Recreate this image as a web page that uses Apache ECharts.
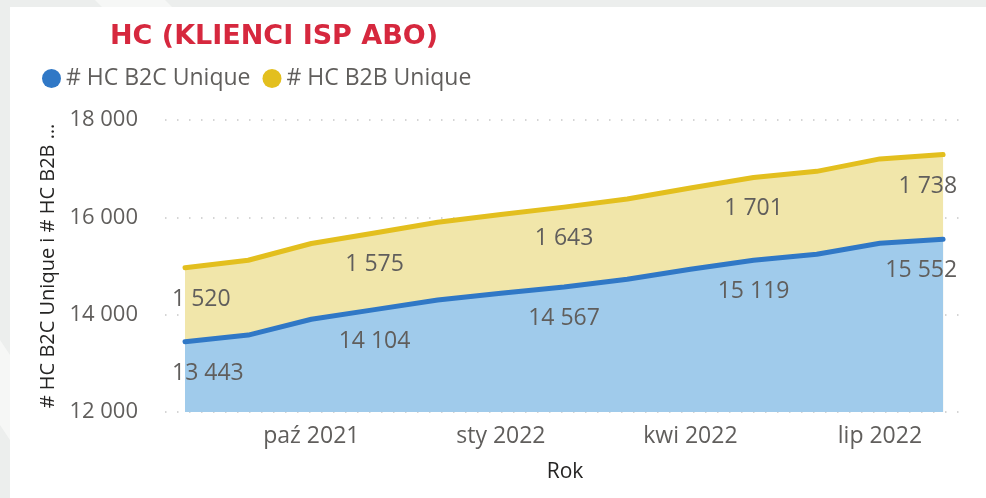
<!DOCTYPE html>
<html>
<head>
<meta charset="utf-8">
<script src="https://cdn.jsdelivr.net/npm/echarts@6/dist/echarts.min.js"></script>
<style>
  html, body { margin: 0; padding: 0; background: #eceeed; }
  #chart { width: 986px; height: 498px; }
</style>
</head>
<body>
<div id="chart"></div>
<script>
// miesiące (oś X)
var months = ['sie 2021', 'wrz 2021', 'paź 2021', 'lis 2021', 'gru 2021', 'sty 2022', 'lut 2022',
              'mar 2022', 'kwi 2022', 'maj 2022', 'cze 2022', 'lip 2022', 'sie 2022'];
// wartości
var b2c = [13443, 13580, 13905, 14104, 14300, 14440, 14567, 14728, 14933, 15119, 15240, 15466, 15552];
var b2b = [1520, 1538, 1558, 1575, 1600, 1620, 1643, 1650, 1670, 1701, 1705, 1735, 1738];
// etykiety osi X i co który punkt ma etykietę
var xTickIdx = [2, 5, 8, 11];
var labelStep = 3;

var fmt = function (v) {
    return String(v).replace(/\B(?=(\d{3})+(?!\d))/g, ' ');
};

var font = '"Open Sans", "Noto Sans", sans-serif';
var grey = '#605e5c';

// B2B rysowane jako suma (B2C + B2B), B2C przykrywa dolną część
function buildData(arr, base) {
    var last = arr.length - 1;
    return arr.map(function (v, i) {
        var y = base ? base[i] + v : v;
        var item = { value: [i, y], label: { show: i % labelStep === 0 } };
        if (i === 0) { item.label.align = 'left'; item.label.offset = [-13, 0]; }
        if (i === last) { item.label.align = 'right'; item.label.offset = [14, 0]; }
        return item;
    });
}

function labelCfg(src) {
    return {
        show: true,
        position: 'bottom',
        distance: 20,
        color: grey,
        fontFamily: font,
        fontSize: 23,
        formatter: function (p) { return fmt(src[p.dataIndex]); }
    };
}

var option = {
    backgroundColor: '#eceeed',
    animation: false,
    graphic: [{
        type: 'polygon',
        z: -11,
        shape: { points: [[95, 0], [165, 0], [172, 7], [102, 7]] },
        style: { fill: '#f6f7f6' }
    }, {
        type: 'polygon',
        z: -11,
        shape: { points: [[0, 340], [10, 355], [10, 440], [0, 425]] },
        style: { fill: '#f6f7f6' }
    }, {
        type: 'rect',
        z: -10,
        shape: { x: 10, y: 7, width: 976, height: 491 },
        style: { fill: '#ffffff' }
    }],
    title: {
        text: 'HC (KLIENCI ISP ABO)',
        left: 105,
        top: 18,
        textStyle: { color: '#d6283e', fontFamily: '"DejaVu Sans", sans-serif',
                     fontWeight: 'bold', fontSize: 27 }
    },
    legend: {
        left: 37,
        top: 62,
        icon: 'circle',
        itemWidth: 19,
        itemHeight: 19,
        itemGap: 12,
        textStyle: { color: grey, fontFamily: font, fontSize: 23 },
        data: ['# HC B2C Unique', '# HC B2B Unique']
    },
    grid: { left: 165, right: 21, top: 120, bottom: 86 },
    xAxis: {
        type: 'value',
        min: -0.317,
        max: 12.347,
        name: 'Rok',
        nameLocation: 'middle',
        nameGap: 50,
        nameTextStyle: { color: '#252423', fontFamily: font, fontSize: 21 },
        axisLine: { show: false },
        axisTick: { show: false },
        splitLine: { show: false },
        axisLabel: {
            customValues: xTickIdx,
            margin: 13,
            color: grey,
            fontFamily: font,
            fontSize: 23,
            formatter: function (v) { return months[Math.round(v)]; }
        }
    },
    yAxis: {
        type: 'value',
        min: 12000,
        max: 18000,
        interval: 2000,
        name: '# HC B2C Unique i # HC B2B …',
        nameLocation: 'middle',
        nameGap: 107,
        nameTextStyle: { color: '#252423', fontFamily: font, fontSize: 20 },
        axisLine: { show: false },
        axisTick: { show: false },
        axisLabel: {
            margin: 27,
            color: grey,
            fontFamily: font,
            fontSize: 22,
            formatter: fmt
        },
        splitLine: { lineStyle: { color: '#c8c8c8', width: 1.5, type: [1.5, 10.5] } }
    },
    series: [{
        name: '# HC B2B Unique',
        type: 'line',
        z: 1,
        symbol: 'circle',
        symbolSize: 0.01,
        color: '#e3bf1e',
        lineStyle: { width: 5, color: '#e3bf1e', cap: 'round', join: 'round' },
        areaStyle: { color: '#f1e6aa', opacity: 1 },
        label: labelCfg(b2b),
        data: buildData(b2b, b2c)
    }, {
        name: '# HC B2C Unique',
        type: 'line',
        z: 2,
        symbol: 'circle',
        symbolSize: 0.01,
        color: '#3078c6',
        lineStyle: { width: 5, color: '#3078c6', cap: 'round', join: 'round' },
        areaStyle: { color: '#a0cbeb', opacity: 1 },
        label: labelCfg(b2c),
        data: buildData(b2c)
    }]
};

var myChart = echarts.init(document.getElementById('chart'));
myChart.setOption(option);
</script>
</body>
</html>
